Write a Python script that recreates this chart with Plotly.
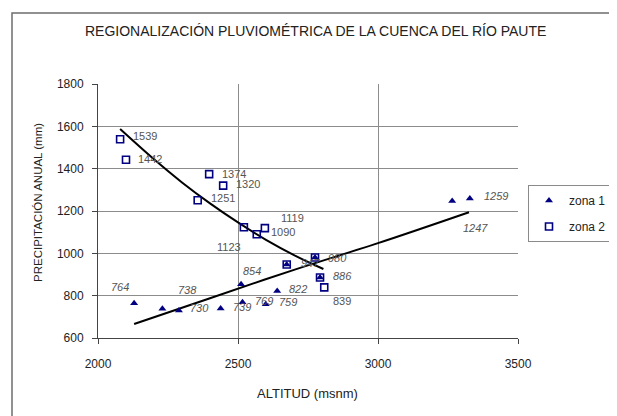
import plotly.graph_objects as go

# ---------------- data ----------------
zona1_altitud = [2129, 2230, 2289, 2438, 2511, 2516, 2599, 2640, 2674, 2775, 2793, 3265, 3328]
zona1_precip = [764, 738, 730, 739, 854, 769, 759, 822, 947, 980, 886, 1247, 1259]
zona1_labels = ["764", "738", "730", "739", "854", "769", "759", "822", "947", "980", "886", "1247", "1259"]

zona2_altitud = [2079, 2100, 2397, 2447, 2356, 2521, 2567, 2596, 2674, 2775, 2793, 2808]
zona2_precip = [1539, 1442, 1374, 1320, 1251, 1123, 1090, 1119, 947, 980, 886, 839]
zona2_labels = ["1539", "1442", "1374", "1320", "1251", "1123", "1090", "1119", "", "", "", "839"]

# trend lines
trend1_altitud = [2129, 2400, 2700, 3000, 3325]
trend1_precip = [666, 788, 922, 1048, 1194]
trend2_altitud = [2079, 2200, 2300, 2400, 2500, 2600, 2700, 2805]
trend2_precip = [1587, 1444, 1335, 1236, 1146, 1064, 992, 926]

x_ticks = [2000, 2500, 3000, 3500]
y_ticks = [600, 800, 1000, 1200, 1400, 1600, 1800]

# label placement offsets (pixels: right, down)
zona1_offsets = [(-14, -16), (25, -19), (21, -2), (21, -2), (11, -13), (22, -1), (22, -2),
                 (21, -2), (24, -2), (22, 0), (22, -1), (23, 27), (26, -3)]
zona2_offsets = [(25, -3), (24, -1), (25, 0), (25, -2), (25, -2), (-15, 20), (26, -2),
                 (28, -10), (0, 0), (0, 0), (0, 0), (18, 14)]

NAVY = "#000080"
LABEL_C = "#555555"
FONT = "Liberation Sans, Arial, sans-serif"

# page has an 8px body margin; figure sized to fit the 617x416 window
OFF = 8
FW, FH = 617 - OFF, 416 - OFF
# plot-area geometry in page pixels
L, R, T, B = 98, 518, 84, 338
W, H = R - L, B - T
def px(xp):
    return (xp - L) / W
def py(yp):
    return (B - yp) / H

fig = go.Figure()

fig.add_trace(go.Scatter(x=trend1_altitud, y=trend1_precip, mode="lines",
                         line=dict(color="black", width=2, shape="spline"),
                         showlegend=False, hoverinfo="skip", legendgroup="a"))
fig.add_trace(go.Scatter(x=trend2_altitud, y=trend2_precip, mode="lines",
                         line=dict(color="black", width=2, shape="spline"),
                         showlegend=False, hoverinfo="skip", legendgroup="b"))

fig.add_trace(go.Scatter(x=zona1_altitud, y=zona1_precip, mode="markers", name="zona 1",
                         marker=dict(symbol="triangle-up", size=7, color=NAVY),
                         legendgroup="a"))
fig.add_trace(go.Scatter(x=zona2_altitud, y=zona2_precip, mode="markers", name="zona 2",
                         marker=dict(symbol="square-open", size=7, color=NAVY,
                                     line=dict(width=1.6, color=NAVY)),
                         legendgroup="b"))

annotations = []
for xv, yv, t, (dx, dy) in zip(zona1_altitud, zona1_precip, zona1_labels, zona1_offsets):
    annotations.append(dict(x=xv, y=yv, text="<i>%s</i>" % t, showarrow=False,
                            xshift=dx, yshift=-dy, xanchor="center", yanchor="middle",
                            font=dict(family=FONT, size=11, color=LABEL_C)))
for xv, yv, t, (dx, dy) in zip(zona2_altitud, zona2_precip, zona2_labels, zona2_offsets):
    if t:
        annotations.append(dict(x=xv, y=yv, text=t, showarrow=False,
                                xshift=dx, yshift=-dy, xanchor="center", yanchor="middle",
                                font=dict(family=FONT, size=11, color=LABEL_C)))

annotations.append(dict(xref="paper", yref="paper", x=px(315), y=py(31),
                        text="REGIONALIZACIÓN PLUVIOMÉTRICA DE LA CUENCA DEL RÍO PAUTE",
                        showarrow=False, xanchor="center", yanchor="middle",
                        font=dict(family=FONT, size=14, color="#222222")))
annotations.append(dict(xref="paper", yref="paper", x=px(307), y=py(393),
                        text="ALTITUD (msnm)", showarrow=False,
                        xanchor="center", yanchor="middle",
                        font=dict(family=FONT, size=13, color="#222222")))
annotations.append(dict(xref="paper", yref="paper", x=px(38), y=py(203),
                        text="PRECIPITACIÓN ANUAL (mm)", showarrow=False, textangle=-90,
                        xanchor="center", yanchor="middle",
                        font=dict(family=FONT, size=11.5, color="#222222")))

# outer chart frame
shapes = [dict(type="rect", xref="paper", yref="paper",
               x0=px(12), x1=px(614), y0=py(430), y1=py(13),
               line=dict(color="#6e6e6e", width=1.5), fillcolor="rgba(0,0,0,0)",
               layer="above")]

fig.update_layout(
    width=FW, height=FH,
    margin=dict(l=L - OFF, r=FW - (R - OFF), t=T - OFF, b=FH - (B - OFF), autoexpand=False),
    paper_bgcolor="white", plot_bgcolor="white",
    font=dict(family=FONT, size=12, color="#222222"),
    annotations=annotations, shapes=shapes,
    legend=dict(x=px(612), y=py(185), xanchor="right", yanchor="top",
                bordercolor="#8a8a8a", borderwidth=1, bgcolor="white",
                font=dict(family=FONT, size=12, color="#222222"),
                tracegroupgap=7, traceorder="grouped"),
    xaxis=dict(range=[2000, 3500], tickvals=x_ticks, ticks="outside", ticklen=5,
               tickcolor="#444444", showgrid=True, gridcolor="#8c8c8c", gridwidth=1,
               showline=True, linecolor="#444444", linewidth=1, zeroline=False,
               ticklabelstandoff=10, tickfont=dict(size=12)),
    yaxis=dict(range=[600, 1800], tickvals=y_ticks, ticks="outside", ticklen=5,
               tickcolor="#444444", showgrid=True, gridcolor="#8c8c8c", gridwidth=1,
               showline=True, linecolor="#444444", linewidth=1, zeroline=False,
               ticklabelstandoff=6, tickfont=dict(size=12)),
)

fig.write_html("out.html")
